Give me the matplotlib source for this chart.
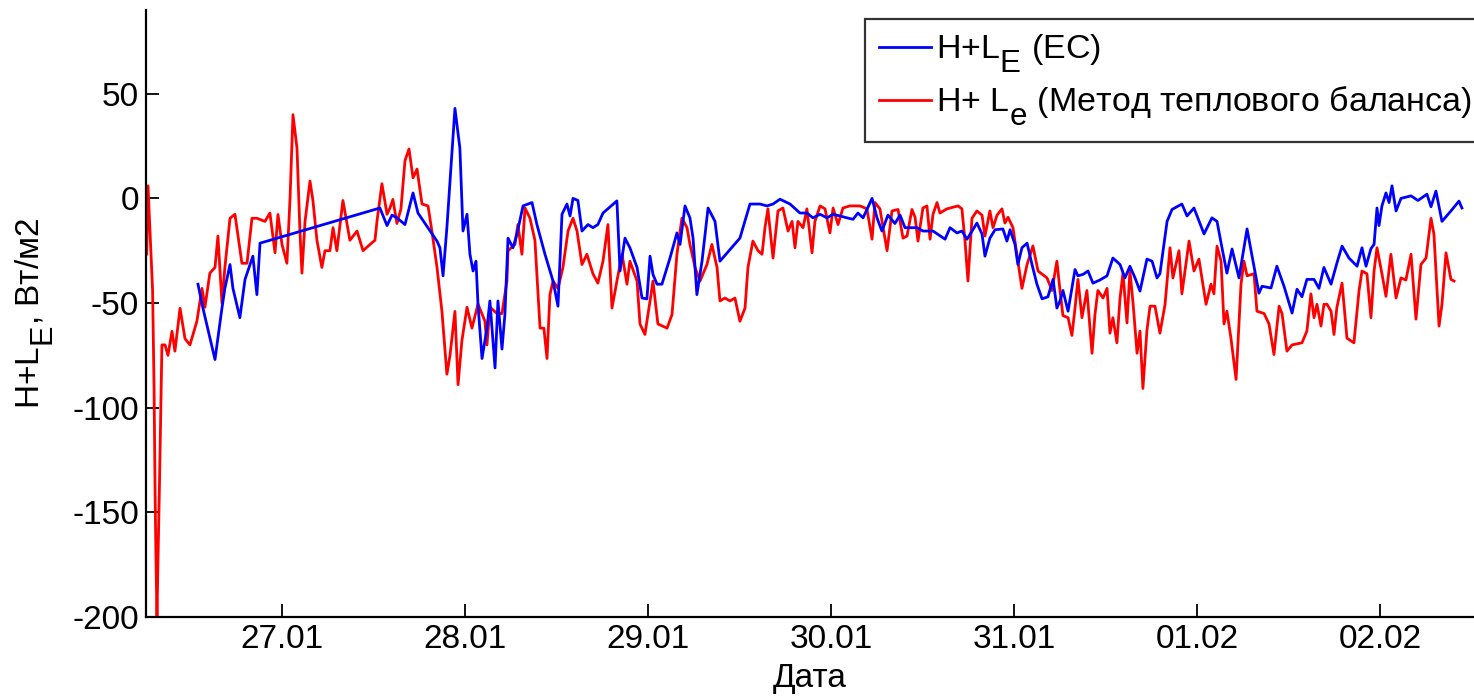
import matplotlib
matplotlib.use("Agg")
import matplotlib.pyplot as plt
try:
    import matplotlib._mathtext as _mt
    _mt.SHRINK_FACTOR = 0.92
    _mt.FontConstantsBase.sub1 = 0.75
except Exception:
    pass

plt.rcParams['font.family'] = ['Liberation Sans', 'DejaVu Sans']
plt.rcParams['mathtext.fontset'] = 'custom'
plt.rcParams['mathtext.rm'] = 'Liberation Sans'
plt.rcParams['axes.unicode_minus'] = False

# ---- data (x in days: 27.0 = 27.01 00:00, 32.0 = 01.02 00:00) ----
ec_x = [26.541, 26.568, 26.634, 26.672, 26.688, 26.716, 26.732, 26.770, 26.798, 26.841,
        26.863, 26.880, 27.535, 27.574, 27.601, 27.628, 27.672, 27.716, 27.743, 27.847,
        27.863, 27.880, 27.901, 27.945, 27.972, 27.989, 28.011, 28.027, 28.044, 28.060,
        28.071, 28.093, 28.120, 28.136, 28.164, 28.180, 28.202, 28.218, 28.235, 28.262,
        28.284, 28.317, 28.366, 28.393, 28.437, 28.481, 28.508, 28.530, 28.557, 28.574,
        28.590, 28.617, 28.639, 28.672, 28.699, 28.726, 28.754, 28.830, 28.847, 28.874,
        28.901, 28.940, 28.967, 28.994, 29.011, 29.027, 29.049, 29.076, 29.120, 29.158,
        29.175, 29.202, 29.229, 29.246, 29.267, 29.295, 29.328, 29.366, 29.393, 29.502,
        29.557, 29.612, 29.650, 29.683, 29.721, 29.776, 29.830, 29.868, 29.901, 29.940,
        29.978, 30.011, 30.049, 30.087, 30.120, 30.147, 30.175, 30.224, 30.251, 30.278,
        30.311, 30.349, 30.377, 30.404, 30.431, 30.470, 30.502, 30.557, 30.623, 30.650,
        30.688, 30.715, 30.743, 30.770, 30.797, 30.825, 30.841, 30.868, 30.896, 30.939,
        30.961, 30.978, 31.005, 31.021, 31.043, 31.071, 31.098, 31.125, 31.153, 31.185,
        31.213, 31.234, 31.251, 31.267, 31.295, 31.333, 31.349, 31.377, 31.404, 31.431,
        31.469, 31.508, 31.540, 31.579, 31.606, 31.633, 31.661, 31.688, 31.726, 31.754,
        31.781, 31.797, 31.836, 31.863, 31.917, 31.945, 31.983, 32.038, 32.081, 32.109,
        32.136, 32.163, 32.191, 32.229, 32.273, 32.311, 32.338, 32.355, 32.404, 32.436,
        32.475, 32.519, 32.546, 32.573, 32.600, 32.639, 32.666, 32.693, 32.732, 32.764,
        32.792, 32.830, 32.874, 32.901, 32.923, 32.950, 32.967, 32.983, 32.994, 33.010,
        33.032, 33.049, 33.065, 33.087, 33.114, 33.169, 33.207, 33.256, 33.278, 33.305,
        33.338, 33.387, 33.431, 33.447]
ec_y = [-41, -52.4, -77, -52.4, -43, -31.6, -43, -57, -38.7, -27.6,
        -46, -21.4, -4.6, -13, -8, -9.3, -12.5, 2.6, -7, -20.4,
        -23.6, -37, -14, 43, 24, -15.6, -7.6, -26.7, -34.7, -30,
        -50.6, -76.5, -62, -49, -81, -49, -72, -55.5, -19, -23.6,
        -17, -3.6, -2, -12.5, -26.7, -39.5, -51.5, -7.6, -2.7, -8.4,
        0, -1, -15.6, -12.5, -14, -12.5, -7, -1.2, -34.7, -19,
        -23.6, -33, -47.6, -48, -27.6, -36.3, -41, -41, -28.5, -16.5,
        -22, -3.6, -9.3, -19, -46, -30, -4.6, -11, -30, -19,
        -2.7, -2.7, -3.6, -2.7, -0.4, -2.7, -7, -7, -9.3, -7.6,
        -9.3, -7.6, -8.4, -9.3, -10, -7, -9.3, 0, -9.3, -15.6,
        -8, -12, -8, -14, -14, -14, -15.6, -15.6, -19.5, -14,
        -16.5, -15.6, -19.5, -15.6, -11.8, -17, -27.6, -19, -15, -14.6,
        -20.4, -15, -22, -31.6, -23.6, -21.4, -31.6, -41, -48, -47,
        -38.7, -52.4, -49, -44, -53.9, -34, -37, -36.3, -34.7, -40.5,
        -39, -37, -28.5, -31.6, -38, -32.4, -38, -44.3, -29, -30,
        -38, -36, -11, -5.3, -2.7, -8.4, -4.6, -17, -9.3, -11,
        -23.6, -35.7, -24.2, -38, -14.6, -32.4, -45.3, -42, -42.8, -32.4,
        -42, -54.8, -43.4, -47, -38.7, -38.7, -43, -33, -41, -30.9,
        -22.8, -28.5, -32.4, -23.6, -32.4, -24, -22, -4.6, -13, -3.6,
        2.6, -2, 6, -6, 0, 1.2, -1, 2, -4, 3.5,
        -11, -6, -1.3, -4.6]

hb_x = [26.261, 26.268, 26.293, 26.301, 26.306, 26.311, 26.317, 26.322, 26.331, 26.339,
        26.344, 26.361, 26.377, 26.399, 26.415, 26.443, 26.470, 26.497, 26.535, 26.563,
        26.579, 26.606, 26.634, 26.650, 26.672, 26.688, 26.716, 26.743, 26.781, 26.809,
        26.836, 26.863, 26.907, 26.934, 26.962, 26.978, 27.000, 27.027, 27.044, 27.060,
        27.082, 27.098, 27.109, 27.126, 27.153, 27.169, 27.191, 27.218, 27.235, 27.262,
        27.279, 27.300, 27.333, 27.371, 27.410, 27.443, 27.481, 27.508, 27.519, 27.546,
        27.574, 27.590, 27.606, 27.628, 27.650, 27.672, 27.694, 27.716, 27.738, 27.765,
        27.798, 27.819, 27.847, 27.874, 27.901, 27.918, 27.945, 27.962, 27.983, 28.011,
        28.038, 28.071, 28.109, 28.120, 28.136, 28.175, 28.202, 28.229, 28.235, 28.273,
        28.289, 28.311, 28.328, 28.355, 28.382, 28.410, 28.431, 28.448, 28.464, 28.481,
        28.508, 28.535, 28.563, 28.590, 28.612, 28.639, 28.666, 28.699, 28.726, 28.754,
        28.781, 28.803, 28.830, 28.858, 28.885, 28.901, 28.940, 28.956, 28.983, 29.011,
        29.027, 29.054, 29.104, 29.131, 29.158, 29.185, 29.213, 29.229, 29.257, 29.284,
        29.322, 29.349, 29.377, 29.393, 29.420, 29.448, 29.475, 29.502, 29.530, 29.546,
        29.573, 29.601, 29.623, 29.639, 29.655, 29.683, 29.710, 29.737, 29.765, 29.787,
        29.803, 29.819, 29.847, 29.868, 29.896, 29.912, 29.940, 29.967, 29.994, 30.011,
        30.038, 30.065, 30.103, 30.158, 30.196, 30.224, 30.240, 30.267, 30.306, 30.333,
        30.366, 30.393, 30.415, 30.442, 30.459, 30.475, 30.502, 30.524, 30.541, 30.557,
        30.579, 30.595, 30.633, 30.694, 30.715, 30.732, 30.748, 30.770, 30.797, 30.825,
        30.841, 30.868, 30.885, 30.907, 30.934, 30.950, 30.967, 30.994, 31.021, 31.043,
        31.071, 31.103, 31.131, 31.180, 31.207, 31.234, 31.251, 31.267, 31.295, 31.316,
        31.333, 31.349, 31.371, 31.398, 31.426, 31.442, 31.458, 31.486, 31.508, 31.524,
        31.540, 31.562, 31.579, 31.595, 31.617, 31.633, 31.650, 31.672, 31.688, 31.704,
        31.726, 31.743, 31.770, 31.797, 31.825, 31.852, 31.868, 31.901, 31.917, 31.956,
        31.983, 32.010, 32.049, 32.076, 32.092, 32.109, 32.131, 32.147, 32.163, 32.185,
        32.213, 32.240, 32.256, 32.273, 32.311, 32.327, 32.366, 32.393, 32.420, 32.448,
        32.464, 32.491, 32.519, 32.573, 32.600, 32.622, 32.639, 32.655, 32.677, 32.693,
        32.710, 32.732, 32.748, 32.764, 32.792, 32.819, 32.857, 32.885, 32.901, 32.928,
        32.950, 32.967, 32.983, 33.010, 33.032, 33.059, 33.087, 33.114, 33.141, 33.169,
        33.196, 33.223, 33.251, 33.278, 33.294, 33.322, 33.338, 33.360, 33.387, 33.404]
hb_y = [-26.6, 6, -44, -90, -135, -170, -200, -175, -135, -95,
        -70, -70, -75, -63.5, -73, -52.5, -67, -70, -58.7, -43,
        -52, -35.7, -33, -18, -50, -33, -9.5, -7.6, -31, -31,
        -9.5, -9.5, -11, -7, -26, -7.7, -22, -31, 0, 40,
        24, -15.6, -35.7, -11, 8.3, -1, -20, -33, -25, -25,
        -14, -25, -1, -20, -15.6, -25, -22, -20, -11, 7,
        -7.6, -4.6, -0.5, -12, -5, 18, 23.6, 9.8, 14, -2.7,
        -3.6, -15.6, -33, -54, -84, -75, -54, -89, -68, -52,
        -62, -50.5, -58.7, -70, -52, -55, -55, -39.5, -25, -22,
        -12.5, -26.7, -4.6, -9.5, -20, -62, -62, -76.5, -46, -39.5,
        -43, -33, -15.6, -9.5, -15.6, -31.6, -26.7, -36, -40.5, -30,
        -12.5, -52.4, -39.5, -26.7, -41, -30, -39.5, -60, -65, -49,
        -39.5, -60, -62, -55.5, -26.7, -9.5, -14, -22, -33, -39.5,
        -31.6, -22, -33, -49, -47.6, -49, -47.6, -58.7, -52.4, -33,
        -20.4, -25, -26.7, -14, -5, -28.5, -6, -4.6, -15.6, -11,
        -23.6, -11, -14, -5, -26, -11, -3.6, -5, -16.5, -4.6,
        -12.5, -4.6, -3.6, -3.6, -5, -19.5, -2, -5, -25, -6,
        -5.3, -19, -18, -5.3, -9, -20.4, -4.6, -3.6, -19.5, -7.6,
        -2, -7, -5, -3.6, -5, -20.4, -39.5, -9.5, -6, -8,
        -18, -6, -14, -8, -5, -11.8, -9, -14, -30, -43,
        -31.6, -22.7, -34.7, -38, -44, -30, -44, -56, -57, -65.5,
        -52.4, -38.7, -57, -44, -74, -55.5, -44, -47.6, -43, -64.4,
        -57, -69, -47.6, -35.7, -59.5, -34.7, -50, -74, -63.4, -90.8,
        -63, -51.5, -51.5, -64.4, -50.6, -23.6, -38, -25, -45.6, -20.4,
        -34.7, -29, -50.6, -41, -45.6, -22.8, -30, -60, -53.9, -66.8,
        -86.5, -41, -30, -37, -36, -53.9, -55, -60, -74.6, -51.5,
        -55, -73, -70, -69, -63.4, -45.6, -57, -50.6, -61, -50.6,
        -50.6, -53.9, -65, -52, -40.5, -66.8, -69, -44, -34.7, -36,
        -57, -34.7, -23.6, -36, -46.8, -26.7, -47.6, -38, -39, -26.7,
        -57.7, -31.6, -28.5, -9.5, -17, -61, -50.6, -26, -38.7, -39.5]

tick_pos = [27, 28, 29, 30, 31, 32, 33]
tick_labels = ['27.01', '28.01', '29.01', '30.01', '31.01', '01.02', '02.02']
yticks = [-200, -150, -100, -50, 0, 50]

label_ec = 'H+L$_\\mathregular{E}$ (ЕС)'
label_hb = 'H+ L$_\\mathregular{e}$ (Метод теплового баланса)'

# ---- figure ----
fig = plt.figure(figsize=(14.74, 6.97), dpi=100, facecolor='white')
ax = fig.add_axes([146/1474, 80/697, 1 - 146/1474, (617 - 10)/697])

l1, = ax.plot(ec_x, ec_y, color='#0000ff', lw=2.0, zorder=3, label=label_ec)
l2, = ax.plot(hb_x, hb_y, color='#ff0000', lw=2.0, zorder=2, label=label_hb)

ax.set_xlim(26.257, 33.513)
ax.set_ylim(-200, 90)
ax.set_xticks(tick_pos)
ax.set_xticklabels(tick_labels)
ax.set_yticks(yticks)

for s in ['top', 'right']:
    ax.spines[s].set_visible(False)
for s in ['left', 'bottom']:
    ax.spines[s].set_linewidth(1.6)
ax.tick_params(direction='in', length=9.5, width=1.3, labelsize=24, pad=5)

ax.set_xlabel('Дата', fontsize=24, labelpad=6)
ax.set_ylabel('H+L$_\\mathregular{E}$, Вт/м2', fontsize=24, labelpad=12)

leg = fig.legend(handles=[l1, l2], loc='upper left',
                 bbox_to_anchor=(865/1474, 1 - 19/697), fontsize=24.5,
                 frameon=True, fancybox=False, shadow=False,
                 handlelength=1.55, handletextpad=0.15, borderpad=0.4,
                 labelspacing=0.3, borderaxespad=0)
leg.get_frame().set_edgecolor('black')
leg.get_frame().set_linewidth(1.6)

fig.savefig('out.png', dpi=100, facecolor='white')
